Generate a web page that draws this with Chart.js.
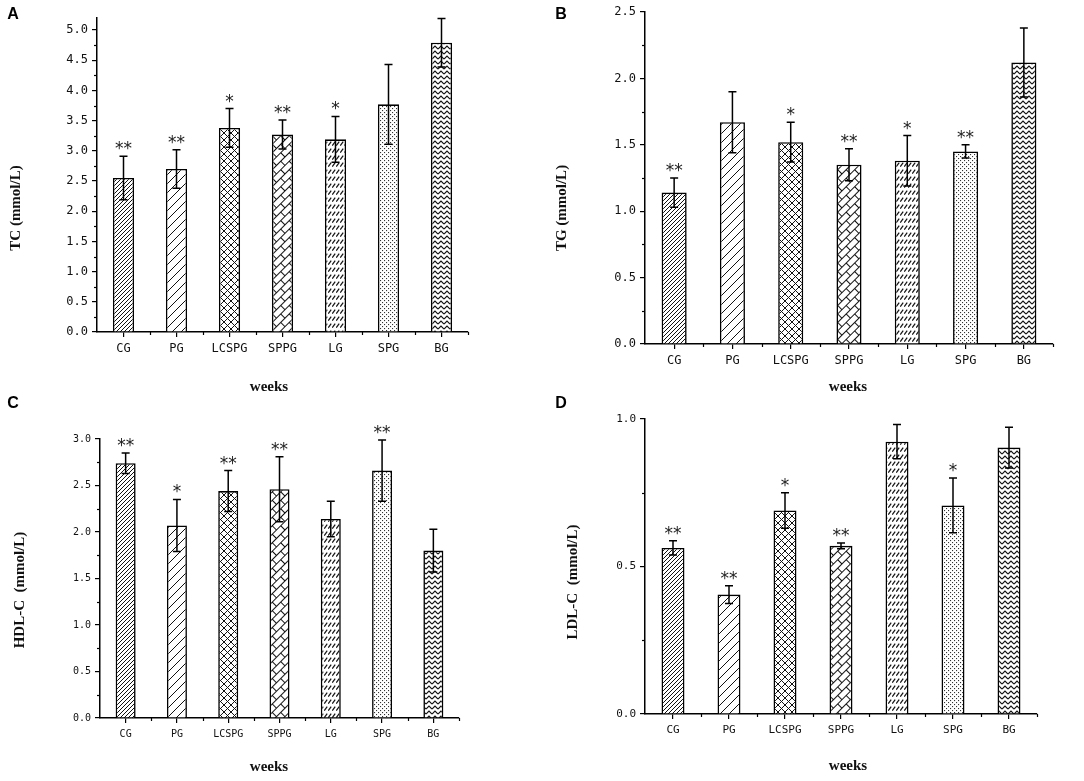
<!DOCTYPE html>
<html>
<head>
<meta charset="utf-8">
<script src="https://cdn.jsdelivr.net/npm/chart.js@4.4.1/dist/chart.umd.min.js"></script>
<style>
  html, body { margin: 0; padding: 0; background: #fff; }
  #wrap { position: relative; width: 1084px; height: 781px; overflow: hidden; }
  canvas { position: absolute; }
</style>
</head>
<body>
<div id="wrap">
  <canvas id="chartA" width="540" height="395" style="left:0;top:0"></canvas>
  <canvas id="chartB" width="544" height="395" style="left:540px;top:0"></canvas>
  <canvas id="chartC" width="540" height="391" style="left:0;top:390px"></canvas>
  <canvas id="chartD" width="544" height="391" style="left:540px;top:390px"></canvas>
</div>
<script>
// groups on the x axis
const groups = ['CG', 'PG', 'LCSPG', 'SPPG', 'LG', 'SPG', 'BG'];

// A - TC
const tcMean = [2.55, 2.70, 3.38, 3.27, 3.19, 3.77, 4.79];
const tcErr = [0.36, 0.32, 0.32, 0.24, 0.38, 0.66, 0.40];
const tcSig = ['**', '**', '*', '**', '*', '', ''];

// B - TG
const tgMean = [1.14, 1.67, 1.52, 1.35, 1.38, 1.45, 2.12];
const tgErr = [0.11, 0.23, 0.15, 0.12, 0.19, 0.05, 0.26];
const tgSig = ['**', '', '*', '**', '*', '**', ''];

// C - HDL-C
const hdlMean = [2.74, 2.07, 2.44, 2.46, 2.14, 2.66, 1.80];
const hdlErr = [0.11, 0.28, 0.22, 0.35, 0.19, 0.33, 0.23];
const hdlSig = ['**', '*', '**', '**', '', '**', ''];

// D - LDL-C
const ldlMean = [0.563, 0.405, 0.690, 0.570, 0.923, 0.707, 0.903];
const ldlErr = [0.024, 0.030, 0.060, 0.010, 0.058, 0.093, 0.069];
const ldlSig = ['**', '**', '*', '**', '', '*', ''];

// hatch fills, one per group
function tile(w, h, draw) {
    const c = document.createElement('canvas');
    c.width = w; c.height = h;
    const g = c.getContext('2d');
    g.fillStyle = '#fff';
    g.fillRect(0, 0, w, h);
    g.strokeStyle = '#111';
    g.fillStyle = '#333';
    g.lineWidth = 1;
    draw(g, w, h);
    return c;
}
function line(g, pts) {
    g.beginPath();
    g.moveTo(pts[0], pts[1]);
    for (let i = 2; i < pts.length; i += 2) g.lineTo(pts[i], pts[i + 1]);
    g.stroke();
}
function makePatterns(ctx) {
    const p = [];
    // CG dense slash
    p.push(ctx.createPattern(tile(4, 4, function(g) {
        line(g, [-1, 5, 5, -1]);
        line(g, [-3, 3, 3, -3]);
        line(g, [1, 7, 7, 1]);
    }), 'repeat'));
    // PG wide slash
    p.push(ctx.createPattern(tile(9, 9, function(g) {
        line(g, [-1, 10, 10, -1]);
        line(g, [-5, 5, 5, -5]);
        line(g, [4, 14, 14, 4]);
    }), 'repeat'));
    // LCSPG cross hatch
    p.push(ctx.createPattern(tile(7, 7, function(g) {
        line(g, [-1, 8, 8, -1]);
        line(g, [-1, -1, 8, 8]);
    }), 'repeat'));
    // SPPG diagonal brick
    const brick = ctx.createPattern(tile(12, 12, function(g) {
        line(g, [0, 0.5, 12, 0.5]);
        line(g, [0, 6.5, 12, 6.5]);
        line(g, [0.5, 0.5, 0.5, 6.5]);
        line(g, [6.5, 6.5, 6.5, 12]);
    }), 'repeat');
    brick.setTransform(new DOMMatrix().rotateSelf(-45));
    p.push(brick);
    // LG rows of short slashes
    p.push(ctx.createPattern(tile(4, 7, function(g) {
        g.lineWidth = 1.2;
        line(g, [0.3, 5.6, 3.2, 1.6]);
    }), 'repeat'));
    // SPG dots
    p.push(ctx.createPattern(tile(4, 4, function(g) {
        g.fillRect(0, 0, 1.1, 1.1);
        g.fillRect(2, 2, 1.1, 1.1);
    }), 'repeat'));
    // BG zigzag
    p.push(ctx.createPattern(tile(6, 5, function(g) {
        g.lineWidth = 1.1;
        line(g, [0, 4, 3, 1, 6, 4]);
    }), 'repeat'));
    return p;
}

// error bars, stars, minor ticks, titles, panel letter
const extrasPlugin = {
    id: 'extras',
    afterDatasetsDraw(chart) {
        const o = chart.options.plugins.extras;
        const xs = chart.scales.x, ys = chart.scales.y;
        const ctx = chart.ctx;
        const means = chart.data.datasets[0].data;
        ctx.save();
        ctx.strokeStyle = '#000';
        ctx.lineWidth = 1.5;
        ctx.fillStyle = '#222';
        ctx.font = o.sigFont;
        ctx.textAlign = 'center';
        ctx.textBaseline = 'alphabetic';
        means.forEach(function(m, i) {
            const x = xs.getPixelForValue(i);
            const top = ys.getPixelForValue(m + o.err[i]);
            const bot = ys.getPixelForValue(m - o.err[i]);
            ctx.beginPath();
            ctx.moveTo(x, top); ctx.lineTo(x, bot);
            ctx.moveTo(x - 4, top); ctx.lineTo(x + 4, top);
            ctx.moveTo(x - 4, bot); ctx.lineTo(x + 4, bot);
            ctx.stroke();
            if (o.sig[i]) ctx.fillText(o.sig[i], x, top + o.sigShift);
        });
        ctx.restore();
    },
    afterDraw(chart) {
        const o = chart.options.plugins.extras;
        const xs = chart.scales.x, ys = chart.scales.y;
        const ctx = chart.ctx;
        const area = chart.chartArea;
        ctx.save();
        ctx.strokeStyle = '#000';
        ctx.lineWidth = 1.2;
        // minor y ticks
        for (let v = 0.25; v <= ys.max + 1e-9; v += 0.5) {
            const y = Math.round(ys.getPixelForValue(v)) + 0.5;
            ctx.beginPath();
            ctx.moveTo(area.left - 3, y); ctx.lineTo(area.left, y);
            ctx.stroke();
        }
        // minor x ticks between groups
        for (let i = 0; i < groups.length; i++) {
            const x = Math.round(xs.getPixelForValue(i + 0.5)) + 0.5;
            ctx.beginPath();
            ctx.moveTo(x, area.bottom); ctx.lineTo(x, area.bottom + 3);
            ctx.stroke();
        }
        // titles
        ctx.fillStyle = '#111';
        ctx.font = 'bold 15px "Liberation Serif", serif';
        ctx.textAlign = 'center';
        ctx.textBaseline = 'middle';
        ctx.fillText('weeks', o.xTitle[0], o.xTitle[1]);
        ctx.save();
        ctx.translate(o.yTitle[0], o.yTitle[1]);
        ctx.rotate(-Math.PI / 2);
        ctx.fillText(o.yText, 0, 0);
        ctx.restore();
        ctx.font = 'bold 16px "Liberation Sans", Arial, sans-serif';
        ctx.fillStyle = '#000';
        ctx.fillText(o.letter, o.letterPos[0], o.letterPos[1]);
        ctx.restore();
    }
};

function makeChart(id, cfg) {
    const canvas = document.getElementById(id);
    const ctx = canvas.getContext('2d');
    const W = canvas.width, H = canvas.height;
    const tickFont = { family: '"DejaVu Sans Mono", monospace', size: cfg.tickSize };
    return new Chart(ctx, {
        type: 'bar',
        data: {
            labels: groups,
            datasets: [{
                data: cfg.mean,
                backgroundColor: makePatterns(ctx),
                borderColor: '#000',
                borderWidth: 1.6,
                borderSkipped: 'bottom',
                barPercentage: cfg.barPct,
                categoryPercentage: 1.0
            }]
        },
        options: {
            responsive: false,
            animation: false,
            events: [],
            layout: {
                padding: { left: 0, top: cfg.area[1], right: W - cfg.area[2], bottom: 0 }
            },
            plugins: {
                legend: { display: false },
                tooltip: { enabled: false },
                extras: {
                    err: cfg.err,
                    sig: cfg.sig,
                    sigFont: '17px "DejaVu Sans", sans-serif',
                    sigShift: -2,
                    yText: cfg.yText,
                    yTitle: cfg.yTitle,
                    xTitle: cfg.xTitle,
                    letter: cfg.letter,
                    letterPos: [cfg.letterX, cfg.letterY]
                }
            },
            scales: {
                x: {
                    grid: { offset: false, drawOnChartArea: false, drawTicks: true, tickLength: 5, color: '#000', lineWidth: 1.2 },
                    border: { color: '#000', width: 1.5 },
                    ticks: { color: '#111', font: tickFont, padding: 5, maxRotation: 0, autoSkip: false },
                    afterFit: function(s) { s.height = H - cfg.area[3]; }
                },
                y: {
                    min: 0,
                    max: cfg.max,
                    grid: { drawOnChartArea: false, drawTicks: true, tickLength: 5, color: '#000', lineWidth: 1.2 },
                    border: { color: '#000', width: 1.5 },
                    ticks: {
                        stepSize: 0.5,
                        includeBounds: false,
                        color: '#111',
                        font: tickFont,
                        padding: 4,
                        callback: function(v) { return v.toFixed(1); }
                    },
                    afterFit: function(s) { s.width = cfg.area[0]; }
                }
            }
        },
        plugins: [extrasPlugin]
    });
}

const chartA = makeChart('chartA', {
    mean: tcMean, err: tcErr, sig: tcSig, max: 5.2,
    area: [97, 18, 468, 332], tickSize: 12, barPct: 0.40,
    yText: 'TC (mmol/L)', yTitle: [16, 208], xTitle: [269, 387],
    letter: 'A', letterX: 13, letterY: 15
});
const chartB = makeChart('chartB', {
    mean: tgMean, err: tgErr, sig: tgSig, max: 2.5,
    area: [105, 12, 513, 344], tickSize: 12, barPct: 0.43,
    yText: 'TG (mmol/L)', yTitle: [22, 208], xTitle: [308, 387],
    letter: 'B', letterX: 21, letterY: 15
});
const chartC = makeChart('chartC', {
    mean: hdlMean, err: hdlErr, sig: hdlSig, max: 3.0,
    area: [100, 49, 459, 328], tickSize: 10, barPct: 0.39,
    yText: 'HDL-C  (mmol/L)', yTitle: [20, 200], xTitle: [269, 377],
    letter: 'C', letterX: 13, letterY: 14
});
const chartD = makeChart('chartD', {
    mean: ldlMean, err: ldlErr, sig: ldlSig, max: 1.0,
    area: [105, 29, 497, 324], tickSize: 11, barPct: 0.41,
    yText: 'LDL-C  (mmol/L)', yTitle: [33, 192], xTitle: [308, 376],
    letter: 'D', letterX: 21, letterY: 14
});
</script>
</body>
</html>
